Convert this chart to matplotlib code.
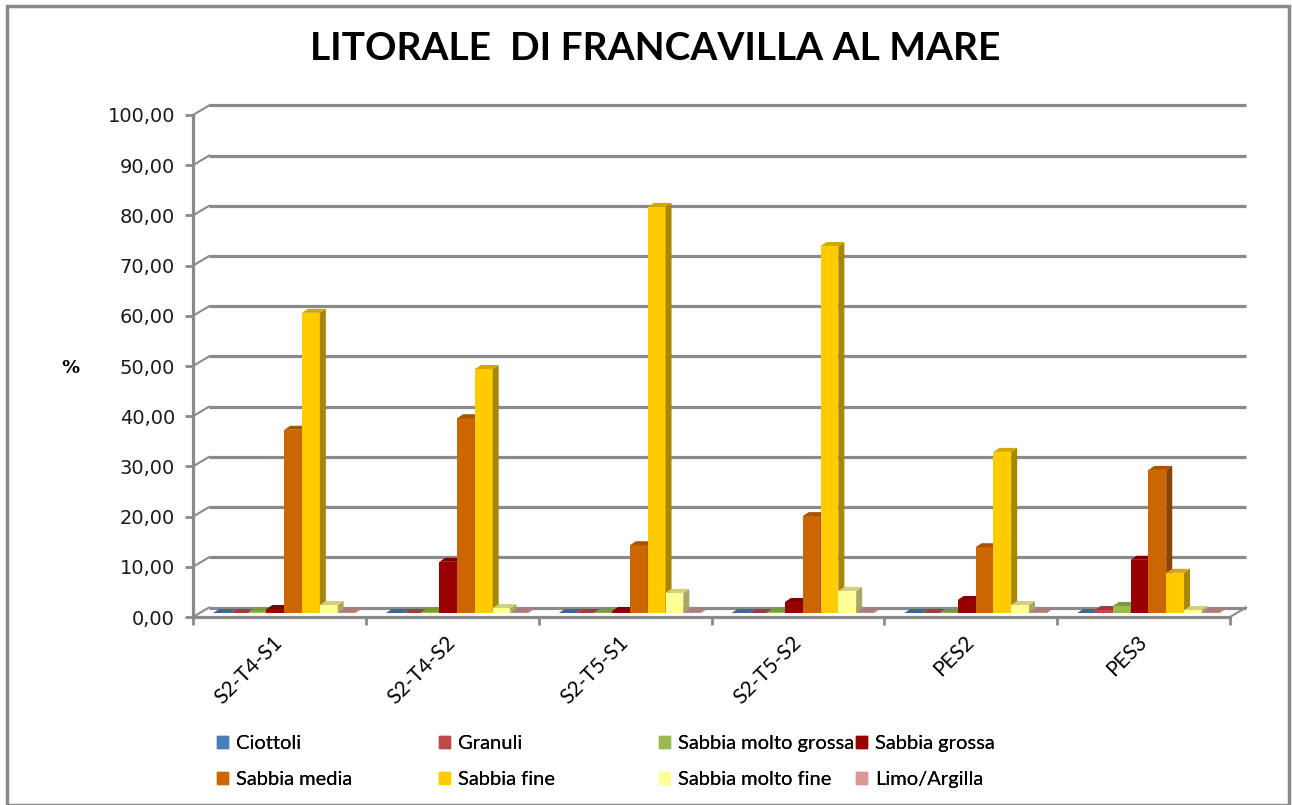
import matplotlib
matplotlib.use('Agg')
import matplotlib.pyplot as plt
import matplotlib.patches as mpatches
from matplotlib.colors import to_rgb
import numpy as np

# --- data -----------------------------------------------------------------
categories = ['S2-T4-S1', 'S2-T4-S2', 'S2-T5-S1', 'S2-T5-S2', 'PES2', 'PES3']
series_names = ['Ciottoli', 'Granuli', 'Sabbia molto grossa', 'Sabbia grossa',
                'Sabbia media', 'Sabbia fine', 'Sabbia molto fine', 'Limo/Argilla']
ciottoli = [0.0, 0.0, 0.0, 0.0, 0.0, 0.0]
granuli = [0.0, 0.0, 0.0, 0.0, 0.0, 0.6]
sabbia_molto_grossa = [0.3, 0.2, 0.1, 0.2, 0.1, 1.4]
sabbia_grossa = [0.8, 10.2, 0.4, 2.2, 2.6, 10.6]
sabbia_media = [36.5, 38.8, 13.5, 19.3, 13.1, 28.5]
sabbia_fine = [59.8, 48.6, 80.9, 73.1, 32.1, 8.0]
sabbia_molto_fine = [1.6, 1.0, 4.0, 4.4, 1.6, 0.6]
limo_argilla = [0.1, 0.1, 0.1, 0.1, 0.1, 0.1]
series_values = [ciottoli, granuli, sabbia_molto_grossa, sabbia_grossa,
                 sabbia_media, sabbia_fine, sabbia_molto_fine, limo_argilla]
colors = ['#4A7EBB', '#BE4B48', '#98B954', '#990000',
          '#CC6600', '#FFCC00', '#FFFF99', '#D99795']
yticks = np.arange(0, 101, 10)

W, H = 1292, 805
grey = '#8A8A8A'

fig = plt.figure(figsize=(W / 100, H / 100), dpi=100)
ax = fig.add_axes([193 / W, (H - 617) / H, (1230 - 193) / W, (617 - 115) / H])
ax.set_xlim(0, len(categories))
ax.set_ylim(0, 100)

# pixel -> data conversions for the fake 3d depth
px_x = len(categories) / (1230 - 193)
px_y = 100 / (617 - 115)
wall_dx, wall_dy = 16 * px_x, 9.5 * px_y
bar_dx, bar_dy = 6 * px_x, 4 * px_y
base_y = 4 * px_y
start, bw = 0.116, 0.103


def shade(c, f):
    r, g, b = to_rgb(c)
    return (r * f, g * f, b * f)


# back wall gridlines + left connectors
for v in yticks:
    ax.plot([wall_dx, len(categories) + wall_dx], [v + wall_dy, v + wall_dy],
            color=grey, lw=2.3, clip_on=False, zorder=1, solid_capstyle='butt')
    ax.plot([0, wall_dx], [v, v + wall_dy], color=grey, lw=1.5,
            clip_on=False, zorder=1)
# floor right edge
ax.plot([len(categories), len(categories) + wall_dx], [0, wall_dy],
        color=grey, lw=1.5, clip_on=False, zorder=1)

# bars
x0 = np.arange(len(categories))
for k, (vals, c) in enumerate(zip(series_values, colors)):
    xl = x0 + start + k * bw
    z = 3 + k * 0.1
    ax.bar(xl, vals, width=bw, bottom=base_y, align='edge', color=c,
           linewidth=0, zorder=z, clip_on=False)
    for x, v in zip(xl, vals):
        top = base_y + v
        side = [(x + bw, base_y), (x + bw + bar_dx, base_y + bar_dy),
                (x + bw + bar_dx, top + bar_dy), (x + bw, top)]
        lid = [(x, top), (x + bw, top), (x + bw + bar_dx, top + bar_dy),
               (x + bar_dx, top + bar_dy)]
        ax.add_patch(mpatches.Polygon(side, closed=True, color=shade(c, 0.66),
                                      lw=0, zorder=z, clip_on=False))
        ax.add_patch(mpatches.Polygon(lid, closed=True, color=shade(c, 0.82),
                                      lw=0, zorder=z, clip_on=False))

# axes
for s in ['top', 'right']:
    ax.spines[s].set_visible(False)
for s in ['left', 'bottom']:
    ax.spines[s].set_color(grey)
    ax.spines[s].set_linewidth(2.3)
ax.set_yticks(yticks)
ax.set_yticklabels([f'{v:.2f}'.replace('.', ',') for v in yticks],
                   fontsize=14, color='#1a1a1a', family='DejaVu Sans')
ax.tick_params(axis='y', length=6, width=2, color=grey, pad=7)
ax.set_xticks(x0 + 0.5)
ax.set_xticklabels(categories, rotation=45, ha='right', va='center',
                   rotation_mode='anchor', fontsize=15, family='Lato')
ax.tick_params(axis='x', length=0, pad=16)
ax.set_xticks(np.arange(len(categories) + 1), minor=True)
ax.tick_params(axis='x', which='minor', length=6, width=2, color=grey)

fig.text(70 / W, 1 - 368 / H, '%', fontsize=13, fontweight='bold',
         family='DejaVu Sans', ha='center', va='center')
fig.text(655 / W, 1 - 48 / H, 'LITORALE  DI FRANCAVILLA AL MARE',
         fontsize=28, fontweight='bold', family='Lato', ha='center', va='center')

# legend: four columns of two entries
handles = [mpatches.Patch(color=c) for c in colors]
col_x = [207, 429, 649, 846]
for j, cx in enumerate(col_x):
    idx = [j, j + 4]
    leg = fig.legend([handles[i] for i in idx], [series_names[i] for i in idx],
                     loc='upper left', bbox_to_anchor=(cx / W, 1 - 725 / H),
                     frameon=False, handlelength=0.55, handleheight=0.55,
                     handletextpad=0.4, labelspacing=0.95, borderpad=0,
                     prop={'family': 'Lato', 'size': 14.5})
    fig.add_artist(leg)

# chart border
fig.add_artist(mpatches.Rectangle((7 / W, 0), (1289 - 7) / W, (H - 6) / H,
                                  transform=fig.transFigure, fill=False,
                                  edgecolor=grey, lw=2.5))

fig.savefig('out.png', dpi=100)
